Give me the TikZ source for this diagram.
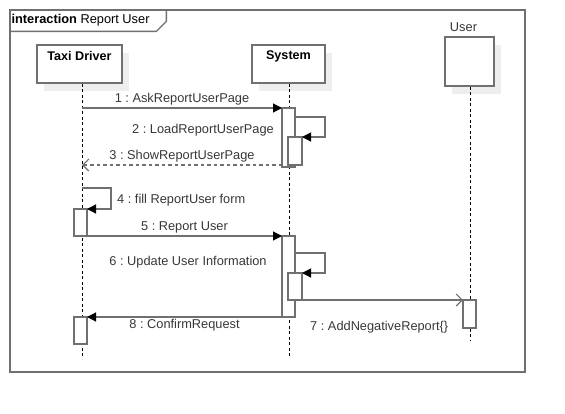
\documentclass[tikz,border=0pt]{standalone}
\usepackage{fontspec}
\setmainfont{Liberation Sans}
\usetikzlibrary{arrows.meta,shadows,positioning}
\frenchspacing

\definecolor{linegray}{RGB}{112,112,112}
\definecolor{shadegray}{RGB}{238,238,238}
\definecolor{textgray}{RGB}{55,55,55}

\tikzset{%
	frameline/.style={draw=linegray, line width=1.3pt},%
	headbox/.style={draw=linegray, line width=1.2pt, fill=white, inner sep=0pt,%
		drop shadow={shadow xshift=7pt, shadow yshift=-8pt, fill=shadegray, opacity=1}},%
	headtxt/.style={font=\fontsize{12.6}{15}\selectfont\bfseries, text=black},%
	act/.style={draw=linegray, line width=1.2pt, fill=white, minimum width=13pt, inner sep=0pt, outer sep=0pt, anchor=north},%
	lifeline/.style={black, line width=0.9pt, dash pattern=on 3pt off 2.5pt},%
	call/.style={draw=linegray, line width=1.2pt, -{Triangle[length=9pt,width=9pt,color=black]}},%
	reply/.style={draw=linegray, line width=1.2pt, dash pattern=on 3.5pt off 3pt, -{Straight Barb[length=6pt,width=12pt,color=linegray]}},%
	async/.style={draw=linegray, line width=1.2pt, -{Straight Barb[length=6pt,width=12pt,color=linegray]}},%
	msg/.style={text=textgray, inner sep=2pt},%
}

\begin{document}
\begin{tikzpicture}[x=1pt, y=-1pt, font=\fontsize{12.8}{15}\selectfont] % シーケンス図
\useasboundingbox (0,0) rectangle (565,413);
% 枠
\node[frameline, minimum width=515pt, minimum height=362pt] (frame) at (267.5,191) {};
\draw[frameline] (frame.north west) ++(0,22) -- ++(147,0) -- ++(10,-10) -- ++(0,-12);
\node[anchor=west, inner sep=1pt] (tab) at ([xshift=1pt,yshift=-11pt]frame.north west) {\textbf{interaction} Report User};
% ライフライン
\node[headbox, minimum width=85pt, minimum height=38pt] (driver) at (79.5,64) {};
\node[headtxt, below=3pt of driver.north] (drivertxt) {Taxi Driver};
\node[headbox, minimum width=73pt, minimum height=38pt] (system) at (288.5,64) {};
\node[headtxt, below=3pt of system.north] (systemtxt) {System};
\node[headbox, minimum width=49pt, minimum height=49pt] (user) at (469.5,61.5) {};
\node[msg, above=3pt of user, xshift=-6pt] (usertxt) {User};
\foreach \h/\dx/\len in%
{%
	driver/2.5/275, system/0.5/274, user/0.5/254%
}{%
	\coordinate (l\h) at ([xshift=\dx pt]\h.south);
	\draw[lifeline] (l\h) -- ++(0,\len);
}%
% 実行仕様
\node[act, minimum height=27pt] (fill) at (80.5,209) {};
\node[act, minimum height=27pt] (confirm) at (80.5,317) {};
\node[act, minimum height=59pt] (ask) at (288.5,108) {};
\node[act, minimum height=28pt, minimum width=14pt] (load) at (295,137) {};
\node[act, minimum height=81pt] (report) at (288.5,236) {};
\node[act, minimum height=27pt, minimum width=14pt] (update) at (295,273) {};
\node[act, minimum height=28pt] (negative) at (469.5,300) {};
% メッセージ
\draw[call] (ask.north west -| ldriver) -- node[msg, above] {1 : AskReportUserPage} (ask.north west);
\draw[call] ([yshift=-9pt]ask.north east) -| ([xshift=23pt]load.north east) -- (load.north east);
\node[msg, anchor=east] at ([xshift=-6pt,yshift=-22pt]ask.north west) {2 : LoadReportUserPage};
\draw[reply] ([yshift=2pt]ask.south west) -- node[msg, above] {3 : ShowReportUserPage} ([yshift=2pt]ask.south west -| ldriver);
\draw[call] ([yshift=21pt]fill.north -| ldriver) -| ([xshift=24pt]fill.north east) -- (fill.north east);
\node[msg, anchor=west] at ([xshift=28pt,yshift=9pt]fill.north east) {4 : fill ReportUser form};
\draw[call] (fill.south east) -- node[msg, above] {5 : Report User} (fill.south east -| report.west);
\draw[call] ([yshift=-17pt]report.north east) -| ([xshift=23pt]update.north east) -- (update.north east);
\node[msg] at ([xshift=-94pt,yshift=-26pt]report.north west) {6 : Update User Information};
\draw[async] (update.south east) -- (negative.north west);
\node[msg, anchor=west] at ([xshift=6pt,yshift=-27pt]update.south east) {7 : AddNegativeReport\{\}};
\draw[call] (report.south west) -- node[msg, below] {8 : ConfirmRequest} (confirm.north east);
\end{tikzpicture}
\end{document}
